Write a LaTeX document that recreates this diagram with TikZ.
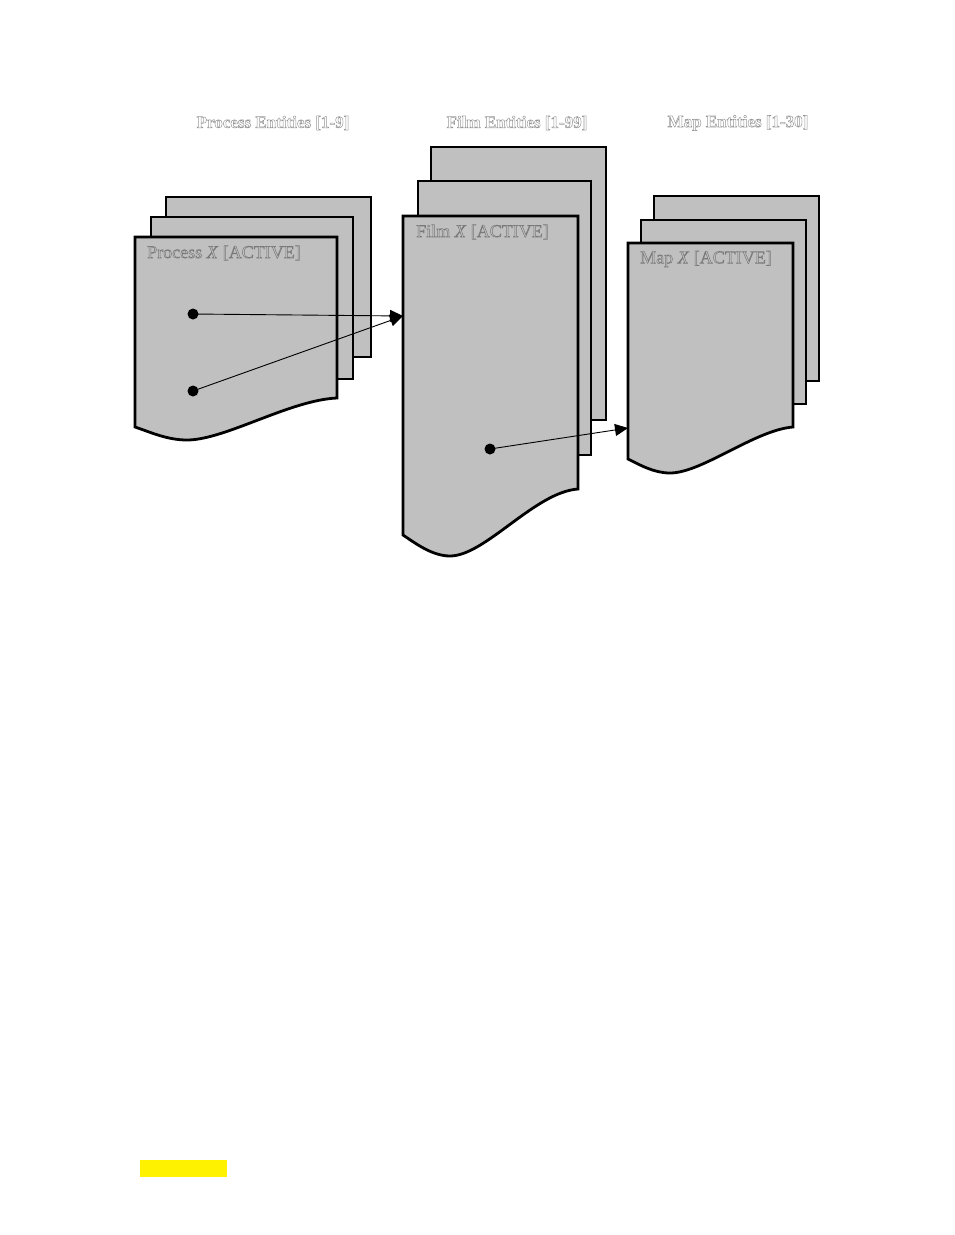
\documentclass[tikz,border=0pt]{standalone}
\usepackage{fontspec}
\setmainfont{Liberation Serif}
\usetikzlibrary{arrows.meta,positioning}
\definecolor{sheetgray}{RGB}{192,192,192}
\definecolor{headgray}{RGB}{150,150,150}
\definecolor{labelgray}{RGB}{120,120,120}
\newcommand{\hollowtext}[1]{\special{pdf:literal direct 1 Tr 0.5 w}#1\special{pdf:literal direct 0 Tr}}
\tikzset{
	sheet/.style={draw=black,fill=sheetgray,line width=2.8pt,line join=miter},
	dot/.style={circle,fill=black,inner sep=0pt,minimum size=11pt},
	link/.style={line width=0.9pt,-{Triangle[length=13pt,width=12pt]},shorten <=-5pt},
	heading/.style={text=headgray,font=\fontsize{17}{20}\selectfont\bfseries,inner sep=0pt},
	sheetlabel/.style={text=labelgray,font=\fontsize{18}{21}\selectfont,inner sep=0pt,anchor=west}
}

\begin{document}
\begin{tikzpicture}[x=1pt,y=-1pt]
	\useasboundingbox (0,0) rectangle (954,1235);
	% process sheets
	\draw[sheet] (166,197) rectangle (371,357);
	\draw[sheet] (151,217) rectangle (353,379);
	\draw[sheet] (135,427) -- (135,237) -- (337,237) -- (337,398)
		.. controls (290,400) and (225,440) .. (187,440)
		.. controls (167,440) and (150,432) .. (135,427) -- cycle;
	% film sheets
	\draw[sheet] (431,147) rectangle (606,420);
	\draw[sheet] (418,181) rectangle (591,455);
	\draw[sheet] (403,535) -- (403,216) -- (578,216) -- (578,489)
		.. controls (535,492) and (485,556) .. (450,556)
		.. controls (432,556) and (415,543) .. (403,535) -- cycle;
	% map sheets
	\draw[sheet] (654,196) rectangle (819,381);
	\draw[sheet] (641,220) rectangle (806,404);
	\draw[sheet] (628,459) -- (628,243) -- (793,243) -- (793,427)
		.. controls (755,430) and (702,473) .. (670,473)
		.. controls (654,473) and (640,465) .. (628,459) -- cycle;

	\node[dot] (proc-a) at (193,314) {};
	\node[dot] (proc-b) at (193,391) {};
	\node[dot] (film-a) at (490,449) {};
	\coordinate (film-in) at (403,316);
	\coordinate (map-in) at (628,428);
	\draw[link] (proc-a) -- (film-in);
	\draw[link] (proc-b) -- (film-in);
	\draw[link] (film-a) -- (map-in);

	\node[heading] (proc-head) at (273,123) {\hollowtext{Process Entities [1-9]}};
	\node[heading] (film-head) at (517,123) {\hollowtext{Film Entities [1-99]}};
	\node[heading] (map-head) at (738,123) {\hollowtext{Map Entities [1-30]}};
	\node[sheetlabel] (proc-label) at (147,253) {\hollowtext{Process \textit{X} [ACTIVE]}};
	\node[sheetlabel] (film-label) at (416,232) {\hollowtext{Film \textit{X} [ACTIVE]}};
	\node[sheetlabel] (map-label) at (640,259) {\hollowtext{Map \textit{X} [ACTIVE]}};

	\fill[yellow] (140,1160) rectangle (227,1177);
\end{tikzpicture}
\end{document}
